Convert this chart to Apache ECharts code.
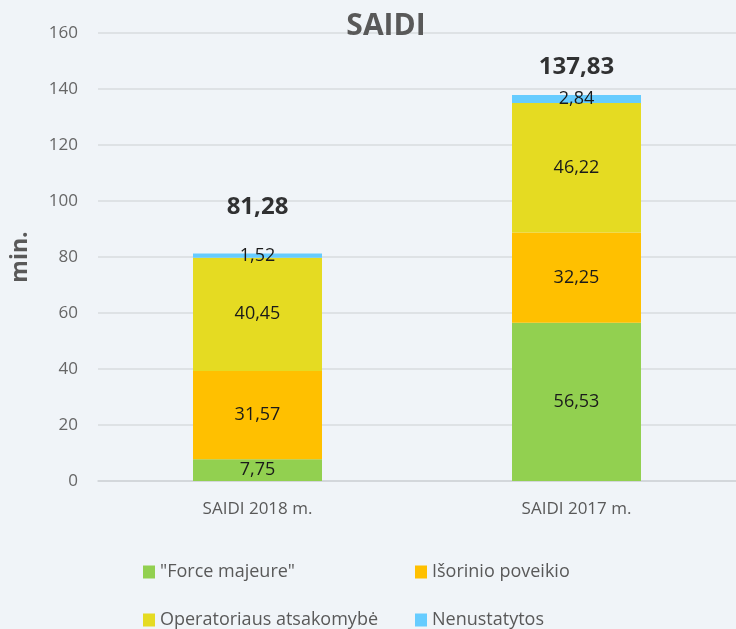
<!DOCTYPE html>
<html>
<head>
<meta charset="utf-8">
<style>
  html, body { margin: 0; padding: 0; background: #f0f4f8; }
  #chart { width: 736px; height: 629px; }
</style>
<script src="https://cdn.jsdelivr.net/npm/echarts@6/dist/echarts.min.js"></script>
</head>
<body>
<div id="chart"></div>
<script>
const categories = ['SAIDI 2018 m.', 'SAIDI 2017 m.']
const seriesNames = ['"Force majeure"', 'Išorinio poveikio', 'Operatoriaus atsakomybė', 'Nenustatytos']
const forceMajeure = [7.75, 56.53]
const isorinio = [31.57, 32.25]
const operatoriaus = [40.45, 46.22]
const nenustatytos = [1.52, 2.84]
const totals = [81.28, 137.83]
const yTicks = [0, 20, 40, 60, 80, 100, 120, 140, 160]

const colors = ['#92d050', '#ffc000', '#e5db22', '#66ccff']
const font = '"Open Sans", "Noto Sans", sans-serif'
const fmt = v => v.toFixed(2).replace('.', ',')

const chart = echarts.init(document.getElementById('chart'))

const stackSeries = [forceMajeure, isorinio, operatoriaus, nenustatytos].map((vals, i) => ({
  name: seriesNames[i],
  type: 'bar',
  stack: 'saidi',
  barWidth: 129,
  data: vals,
  itemStyle: { color: colors[i] },
  label: {
    show: true,
    position: 'inside',
    color: '#1a1a1a',
    fontFamily: font,
    fontSize: 18,
    formatter: p => fmt(p.value)
  },
  emphasis: { disabled: true },
  animation: false
}))

// totals above the bars
const totalSeries = {
  name: 'total',
  type: 'scatter',
  symbolSize: 0,
  data: totals.map((v, i) => ({
    value: v,
    label: { offset: [0, i === 0 ? -14 : 4] }
  })),
  label: {
    show: true,
    position: 'top',
    distance: 20,
    color: '#000',
    fontFamily: font,
    fontSize: 24,
    fontWeight: 'bold',
    formatter: p => fmt(p.value)
  },
  animation: false
}

const legendAt = (name, left, top) => ({
  data: [name],
  left: left,
  top: top,
  padding: 0,
  icon: 'rect',
  itemWidth: 12,
  itemHeight: 13,
  selectedMode: false,
  textStyle: { color: '#595959', fontFamily: font, fontSize: 18 }
})

chart.setOption({
  backgroundColor: '#f0f4f8',
  title: {
    text: 'SAIDI',
    left: 381,
    top: 6,
    textAlign: 'center',
    textStyle: { color: '#595959', fontFamily: font, fontSize: 30, fontWeight: 'bold' }
  },
  grid: { left: 98, right: 0, top: 33, bottom: 148, containLabel: false },
  legend: [
    legendAt(seriesNames[0], 143, 563),
    legendAt(seriesNames[1], 415, 563),
    legendAt(seriesNames[2], 143, 611),
    legendAt(seriesNames[3], 415, 611)
  ],
  xAxis: {
    type: 'category',
    data: categories,
    axisLine: { lineStyle: { color: '#d0d4d8', width: 1.5 } },
    axisTick: { show: false },
    axisLabel: { color: '#595959', fontFamily: font, fontSize: 17, margin: 20 }
  },
  yAxis: {
    type: 'value',
    min: yTicks[0],
    max: yTicks[yTicks.length - 1],
    interval: 20,
    name: 'min.',
    nameLocation: 'middle',
    nameGap: 66,
    nameRotate: 90,
    nameTextStyle: { color: '#595959', fontFamily: font, fontSize: 23, fontWeight: 'bold' },
    axisLine: { show: false },
    axisTick: { show: false },
    axisLabel: { color: '#666', fontFamily: font, fontSize: 17, margin: 20 },
    splitLine: { lineStyle: { color: '#d9dcdf', width: 1.5 } }
  },
  series: [...stackSeries, totalSeries]
})
</script>
</body>
</html>
